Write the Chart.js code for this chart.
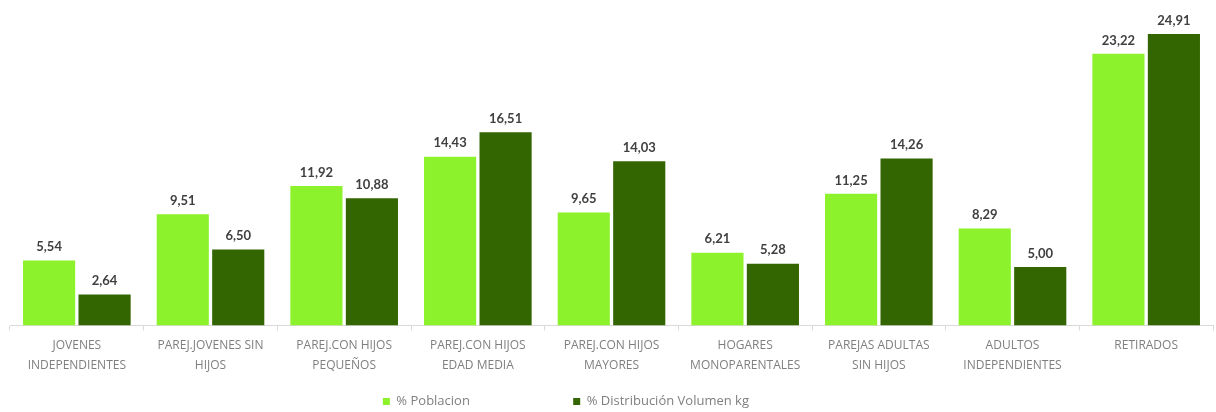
<!DOCTYPE html>
<html>
<head>
<meta charset="utf-8">
<script src="https://cdn.jsdelivr.net/npm/chart.js@4"></script>
<style>
  html, body { margin: 0; padding: 0; background: #fff; }
  #wrap { width: 1216px; height: 412px; }
</style>
</head>
<body>
<div id="wrap"><canvas id="myChart" width="1216" height="412"></canvas></div>
<script>
  // Categories (two lines each)
  var categories = [
    ['JOVENES', 'INDEPENDIENTES'],
    ['PAREJ.JOVENES SIN', 'HIJOS'],
    ['PAREJ.CON HIJOS', 'PEQUEÑOS'],
    ['PAREJ.CON HIJOS', 'EDAD MEDIA'],
    ['PAREJ.CON HIJOS', 'MAYORES'],
    ['HOGARES', 'MONOPARENTALES'],
    ['PAREJAS ADULTAS', 'SIN HIJOS'],
    ['ADULTOS', 'INDEPENDIENTES'],
    ['RETIRADOS']
  ];
  var poblacion = [5.54, 9.51, 11.92, 14.43, 9.65, 6.21, 11.25, 8.29, 23.22];
  var volumen = [2.64, 6.50, 10.88, 16.51, 14.03, 5.28, 14.26, 5.00, 24.91];

  var labelFont = '"Open Sans", Lato, sans-serif';

  // draws the values above each bar, comma as decimal sign
  var valueLabels = {
    id: 'valueLabels',
    afterDatasetsDraw: function (chart) {
      var ctx = chart.ctx;
      ctx.save();
      ctx.font = 'bold 13px Lato, "Open Sans", sans-serif';
      ctx.fillStyle = '#404040';
      ctx.textAlign = 'center';
      ctx.textBaseline = 'bottom';
      chart.data.datasets.forEach(function (ds, i) {
        chart.getDatasetMeta(i).data.forEach(function (bar, j) {
          ctx.fillText(ds.data[j].toFixed(2).replace('.', ','), bar.x, bar.y - 7);
        });
      });
      ctx.restore();
    }
  };

  var ctx = document.getElementById('myChart').getContext('2d');
  var myChart = new Chart(ctx, {
    type: 'bar',
    data: {
      labels: categories,
      datasets: [{
        label: '% Poblacion',
        data: poblacion,
        backgroundColor: '#8cf22c',
        categoryPercentage: 0.83,
        barPercentage: 0.94
      }, {
        label: '% Distribución Volumen kg',
        data: volumen,
        backgroundColor: '#336600',
        categoryPercentage: 0.83,
        barPercentage: 0.94
      }]
    },
    options: {
      responsive: false,
      animation: false,
      layout: { padding: { left: 10, right: 3, top: 33, bottom: -6 } },
      scales: {
        x: {
          grid: { display: true, drawOnChartArea: false, tickLength: 5, color: '#d9d9d9' },
          border: { color: '#d9d9d9' },
          ticks: {
            color: '#7f7f7f',
            font: { family: labelFont, size: 12, lineHeight: 1.65 },
            maxRotation: 0,
            autoSkip: false,
            padding: 5
          },
          afterFit: function (scale) { scale.height += 13; }
        },
        y: {
          display: false,
          min: 0,
          max: 25
        }
      },
      plugins: {
        legend: {
          position: 'bottom',
          labels: {
            boxWidth: 7,
            boxHeight: 7,
            color: '#7f7f7f',
            font: { family: labelFont, size: 13 },
            padding: 2,
            generateLabels: function (chart) {
              var items = Chart.defaults.plugins.legend.labels.generateLabels(chart);
              // widen the gap between the two entries
              items[0].text = items[0].text + '\u00a0'.repeat(30);
              items[1].text = items[1].text + '\u00a0'.repeat(27);
              return items;
            }
          }
        },
        tooltip: { enabled: false }
      }
    },
    plugins: [valueLabels]
  });
</script>
</body>
</html>
